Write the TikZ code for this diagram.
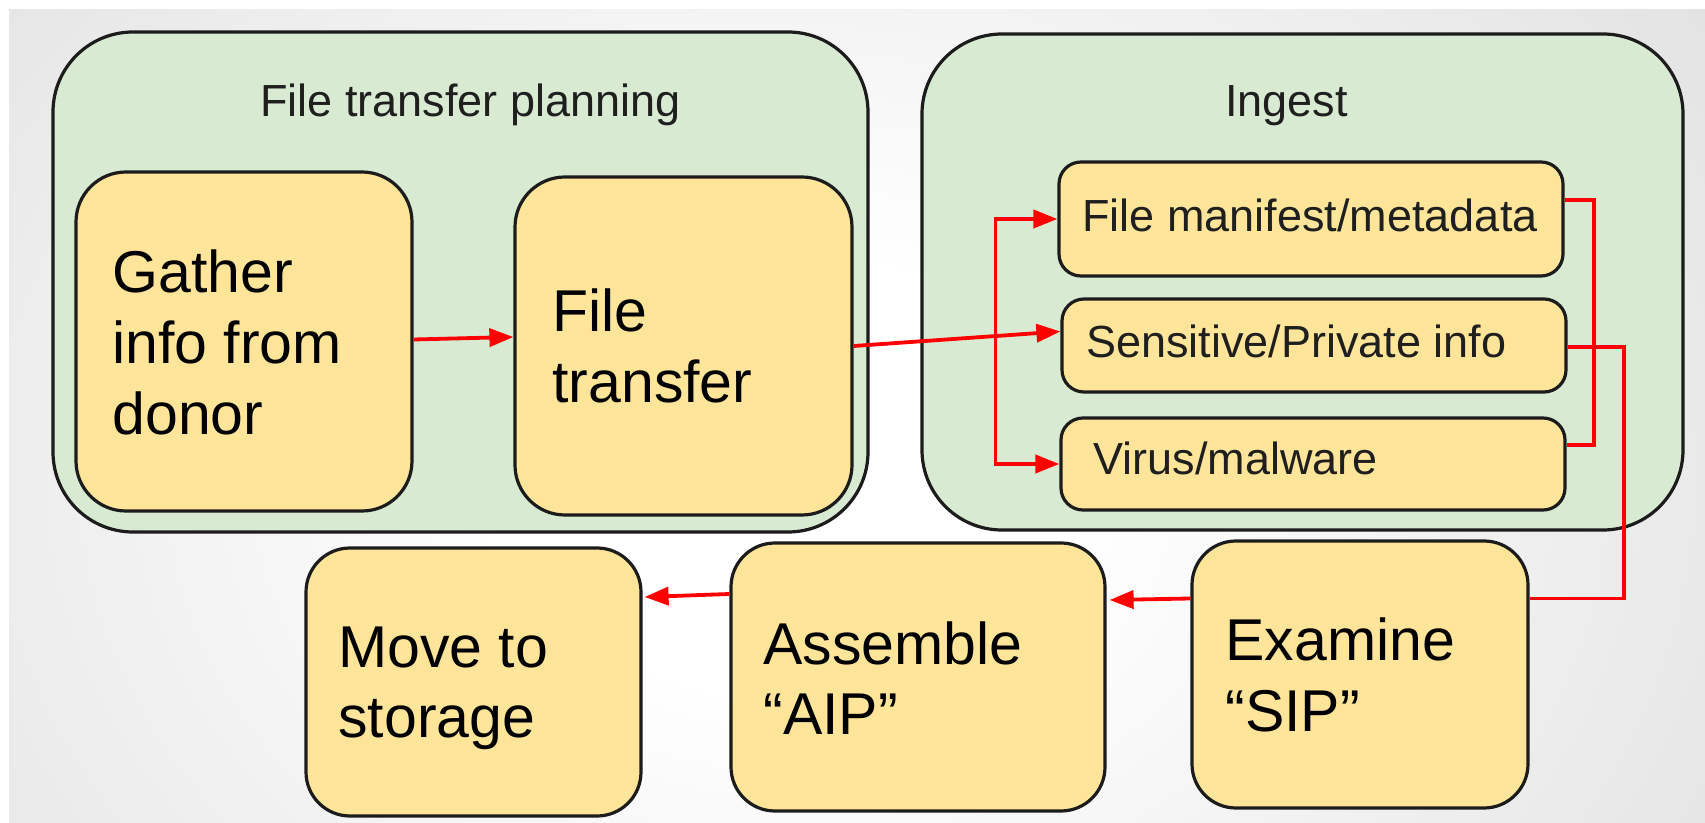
\documentclass[tikz,border=0pt]{standalone}
\usepackage{fontspec}
\setmainfont{Liberation Sans}
\usetikzlibrary{arrows.meta,fit,calc}

\definecolor{panelgreen}{HTML}{D9EAD3}
\definecolor{boxyellow}{HTML}{FFE599}
\definecolor{edgeink}{HTML}{1C1C1C}
\definecolor{flowred}{HTML}{FF0000}

% soft slide backdrop: white in the middle, grey towards the edges
\pgfdeclareradialshading{slideglow}{\pgfpoint{0bp}{0bp}}{%
  color(0bp)=(white); color(6bp)=(white); color(38bp)=(black!20); color(50bp)=(black!20)}

\tikzset{
  panel/.style={draw=edgeink, line width=1.6pt, fill=panelgreen, rounded corners=40pt, inner sep=0pt},
  bigbox/.style={draw=edgeink, line width=1.6pt, fill=boxyellow, rounded corners=25pt, inner sep=0pt},
  lowbox/.style={draw=edgeink, line width=1.6pt, fill=boxyellow, rounded corners=22pt, inner sep=0pt},
  smallbox/.style={draw=edgeink, line width=1.6pt, fill=boxyellow, rounded corners=11pt, inner sep=0pt},
  % multi-line labels are placed by the baseline of their last line
  bigtext/.style={font=\fontsize{29.5pt}{35.5pt}\selectfont, align=left, anchor=base west, inner sep=0pt},
  smalltext/.style={font=\fontsize{22.5pt}{27pt}\selectfont, anchor=base west, inner sep=0pt, text=black!88},
  flowline/.style={draw=flowred, line width=1.9pt},
  flowarrow/.style={flowline, -{Triangle[length=12pt,width=9pt]}},
}

\begin{document}
\begin{tikzpicture}[x=0.5pt, y=-0.5pt]
  \useasboundingbox (0,0) rectangle (1705,823);

  % backdrop
  \fill[white] (0,0) rectangle (1705,823);
  \begin{scope}
    \clip (9,10) rectangle (1705,823);
    \shade[shading=slideglow] (-350,-420) rectangle (1950,1380);
  \end{scope}

  % group panels
  \node[panel, fit={(53,32) (868,532)}] (plan) {};
  \node[panel, fit={(922,34) (1683,530)}] (ingest) {};
  \node[smalltext] (plantitle) at (260,117) {File transfer planning};
  \node[smalltext] (ingesttitle) at (1225,117) {Ingest};

  % planning steps
  \node[bigbox, fit={(76,172) (412,511)}] (gather) {};
  \node[bigbox, fit={(515,177) (852,515)}] (ftr) {};
  \node[bigtext] (gathertext) at (112,435) {Gather\\info from\\donor};
  \node[bigtext] (ftrtext) at (552,403) {File\\transfer};

  % ingest checks
  \node[smallbox, fit={(1059,162) (1563,276)}] (manifest) {};
  \node[smallbox, fit={(1062,299) (1566,392)}] (sens) {};
  \node[smallbox, fit={(1061,418) (1565,510)}] (virus) {};
  \node[smalltext] (manifesttext) at (1082,232) {File manifest/metadata};
  \node[smalltext] (senstext) at (1086,358) {Sensitive/Private info};
  \node[smalltext] (virustext) at (1093,475) {Virus/malware};

  % lower row
  \node[lowbox, fit={(306,548) (641,816)}] (move) {};
  \node[lowbox, fit={(731,543) (1105,811)}] (asm) {};
  \node[lowbox, fit={(1192,541) (1528,808)}] (exam) {};
  \node[bigtext] (movetext) at (338,738) {Move to\\storage};
  \node[bigtext] (asmtext) at (763,735) {Assemble\\“AIP”};
  \node[bigtext] (examtext) at (1225,732) {Examine\\“SIP”};

  % flow
  \draw[flowarrow] ([yshift=1pt]gather.east) -- ([yshift=4.5pt]ftr.west);
  \draw[flowarrow] (ftr.east) -- ([yshift=7pt]sens.west);
  \coordinate (fork) at ($(ftr.east)!0.686!([yshift=7pt]sens.west)$);
  \draw[flowarrow] (fork) |- (manifest.west);
  \draw[flowarrow] (fork) |- (virus.west);
  \draw[flowline] ([yshift=9.5pt]manifest.east) -- ++(29,0) |- ([yshift=9.5pt]virus.east);
  \draw[flowline] ([yshift=-0.75pt]sens.east) -- ++(56,0) |- ([yshift=38pt]exam.east);
  \draw[flowarrow] ([yshift=38pt]exam.west) -- ([xshift=1.5pt,yshift=38.5pt]asm.east);
  \draw[flowarrow] ([yshift=41.5pt]asm.west) -- ([xshift=1pt,yshift=42.5pt]move.east);
\end{tikzpicture}
\end{document}
